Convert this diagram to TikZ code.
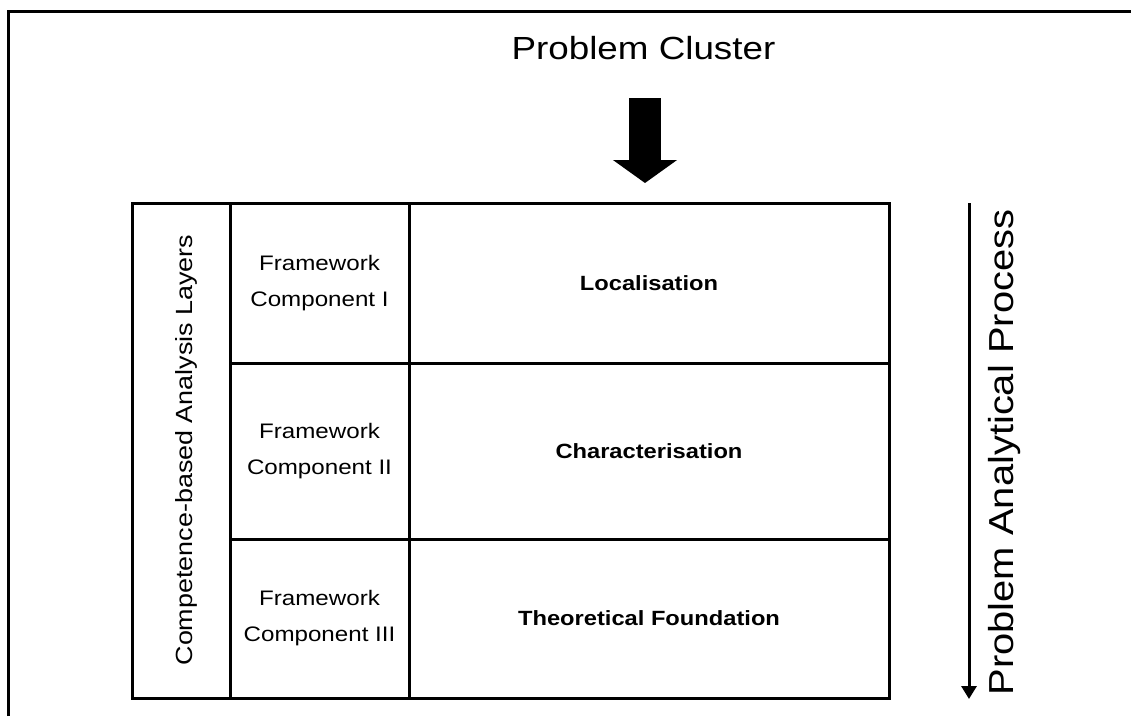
\documentclass[tikz,border=0pt]{standalone}
\usepackage{fontspec}
\setmainfont{Liberation Sans}
\newfontfamily\wsans[FakeStretch=1.15]{Liberation Sans}
\usetikzlibrary{arrows.meta}

\tikzset{
  rule/.style={line width=3pt},
  cell/.style={draw, rule, rectangle, inner sep=0pt, outer sep=0pt, align=center},
  fwtext/.style={font=\wsans\fontsize{21}{36}\selectfont},
  layertext/.style={font=\wsans\bfseries\fontsize{20.6}{25}\selectfont},
  bigarrow/.style={line width=32pt, -{Triangle[length=23pt,width=63pt]}},
  flow/.style={rule, -{Triangle[length=13pt,width=15pt]}}
}

\begin{document}
\begin{tikzpicture}[x=1pt,y=-1pt]
  \useasboundingbox (0,0) rectangle (1131,716);

  % page frame (top and left edges)
  \draw[rule] (8,716) -- (8,11) -- (1131,11);

  % heading and input arrow
  \node[anchor=base, font=\wsans\fontsize{32}{38}\selectfont] (cluster) at (643.5,59) {Problem Cluster};
  \coordinate (inTop) at (645,98);
  \coordinate (inTip) at (645,183);
  \draw[bigarrow] (inTop) -- (inTip);

  % left column: analysis layers
  \node[cell, minimum width=98pt, minimum height=495pt] (layers) at (181,450.5) {};
  \node[rotate=90, anchor=base, font=\wsans\fontsize{23.4}{28}\selectfont] (layerslabel) at (192,450) {Competence-based Analysis Layers};

  % framework components
  \node[cell, fwtext, minimum width=179pt, minimum height=160pt] (fc1) at (319.5,283) {Framework\\Component I};
  \node[cell, fwtext, minimum width=179pt, minimum height=176pt] (fc2) at (319.5,451) {Framework\\Component II};
  \node[cell, fwtext, minimum width=179pt, minimum height=159pt] (fc3) at (319.5,618.5) {Framework\\Component III};

  % analysis layers
  \node[cell, layertext, minimum width=480pt, minimum height=160pt] (loc) at (649,283) {Localisation};
  \node[cell, layertext, minimum width=480pt, minimum height=176pt] (char) at (649,451) {Characterisation};
  \node[cell, layertext, minimum width=480pt, minimum height=159pt] (theo) at (649,618.5) {Theoretical Foundation};

  % process direction
  \coordinate (procTop) at (969,203);
  \coordinate (procEnd) at (969,699);
  \draw[flow] (procTop) -- (procEnd);
  \node[rotate=90, anchor=base, font=\wsans\fontsize{34.7}{40}\selectfont] (proclabel) at (1013,452.5) {Problem Analytical Process};
\end{tikzpicture}
\end{document}
